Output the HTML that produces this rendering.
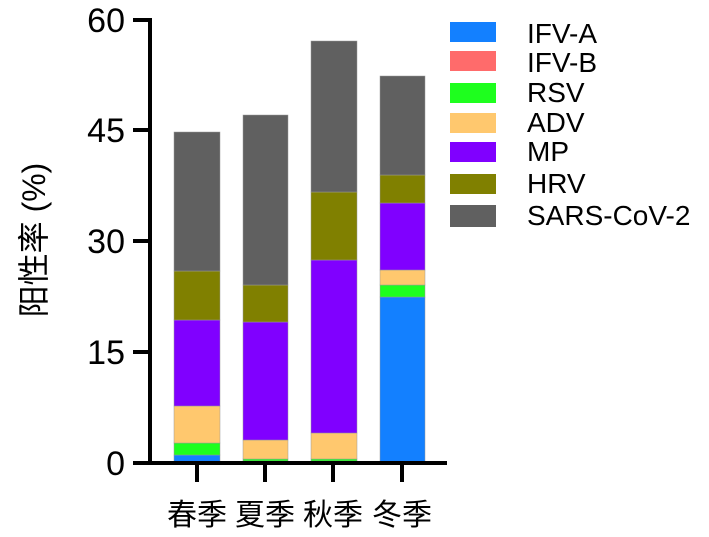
<!DOCTYPE html><html><head><style>body{margin:0;background:#fff}svg{display:block}</style></head><body>
<svg width="709" height="537" xmlns="http://www.w3.org/2000/svg" font-family="Liberation Sans, Noto Sans CJK SC, sans-serif">
<g stroke="#999" stroke-width="0.5">
<rect x="174" y="455" width="46" height="8" fill="#1380ff"/>
<rect x="174" y="443" width="46" height="12" fill="#1eff1e"/>
<rect x="174" y="406" width="46" height="37" fill="#ffc86e"/>
<rect x="174" y="320" width="46" height="86" fill="#8000ff"/>
<rect x="174" y="271" width="46" height="49" fill="#808000"/>
<rect x="174" y="132" width="46" height="139" fill="#606060"/>
<rect x="243" y="461" width="45" height="2" fill="#1380ff"/>
<rect x="243" y="459" width="45" height="2" fill="#1eff1e"/>
<rect x="243" y="440" width="45" height="19" fill="#ffc86e"/>
<rect x="243" y="322" width="45" height="118" fill="#8000ff"/>
<rect x="243" y="285" width="45" height="37" fill="#808000"/>
<rect x="243" y="115" width="45" height="170" fill="#606060"/>
<rect x="311" y="461" width="46" height="2" fill="#1380ff"/>
<rect x="311" y="459" width="46" height="2" fill="#1eff1e"/>
<rect x="311" y="433" width="46" height="26" fill="#ffc86e"/>
<rect x="311" y="260" width="46" height="173" fill="#8000ff"/>
<rect x="311" y="192" width="46" height="68" fill="#808000"/>
<rect x="311" y="41" width="46" height="151" fill="#606060"/>
<rect x="380" y="297" width="45" height="166" fill="#1380ff"/>
<rect x="380" y="285" width="45" height="12" fill="#1eff1e"/>
<rect x="380" y="270" width="45" height="15" fill="#ffc86e"/>
<rect x="380" y="203" width="45" height="67" fill="#8000ff"/>
<rect x="380" y="175" width="45" height="28" fill="#808000"/>
<rect x="380" y="76" width="45" height="99" fill="#606060"/>
</g>
<g stroke="#000" stroke-width="4" fill="none">
<path d="M133 463H447M150 465V19M133 20H152M133 130H150M133 241H150M133 352H150M197 463V482M265 463V482M333 463V482M402 463V482"/>
</g>
<g font-size="34" text-anchor="end">
<text x="125" y="32">60</text><text x="125" y="142">45</text><text x="125" y="253">30</text><text x="125" y="364">15</text><text x="125" y="475">0</text>
</g>
<g font-size="30" text-anchor="middle">
<text x="197" y="525">春季</text><text x="265" y="525">夏季</text><text x="333" y="525">秋季</text><text x="402" y="525">冬季</text>
</g>
<text transform="translate(45,240) rotate(-90)" font-size="32" text-anchor="middle">阳性率 (%)</text>
<g font-size="28">
<rect x="450" y="22" width="46" height="20" fill="#1380ff"/><text x="527" y="43">IFV-A</text>
<rect x="450" y="51" width="46" height="20" fill="#ff6b6b"/><text x="527" y="72">IFV-B</text>
<rect x="450" y="83" width="46" height="20" fill="#1eff1e"/><text x="527" y="102">RSV</text>
<rect x="450" y="113" width="46" height="20" fill="#ffc86e"/><text x="527" y="132">ADV</text>
<rect x="450" y="142" width="46" height="20" fill="#8000ff"/><text x="527" y="161">MP</text>
<rect x="450" y="174" width="46" height="20" fill="#808000"/><text x="527" y="193">HRV</text>
<rect x="450" y="205" width="46" height="22" fill="#606060"/><text x="527" y="225">SARS-CoV-2</text>
</g>
</svg></body></html>
